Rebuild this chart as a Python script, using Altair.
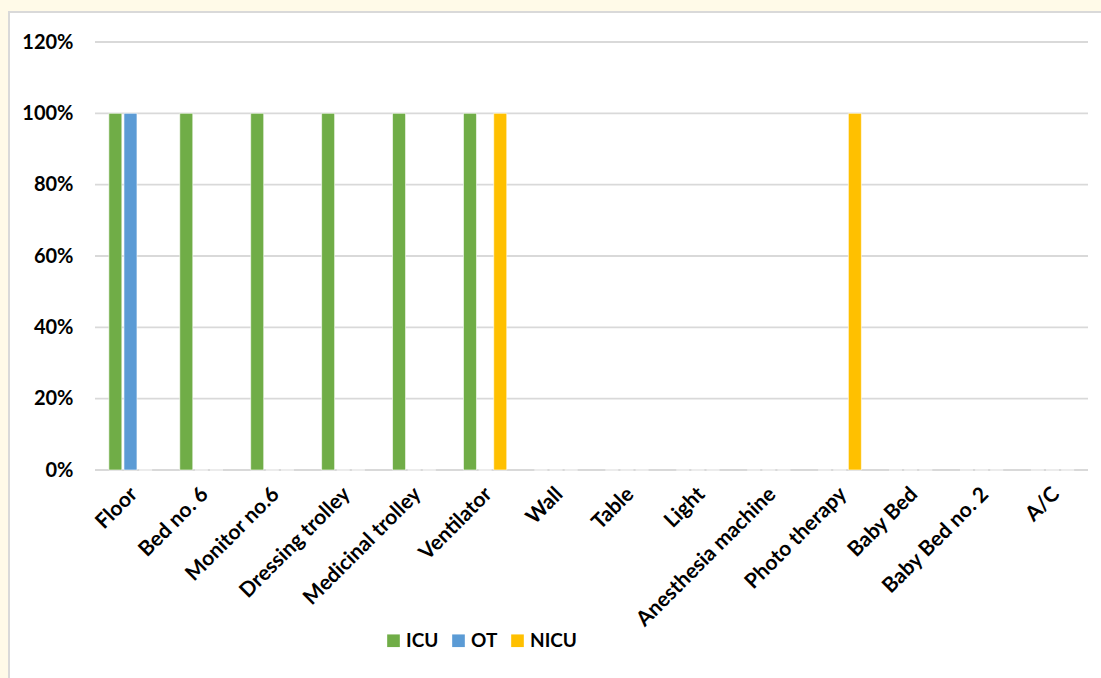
import altair as alt
import pandas as pd

categories = ["Floor", "Bed no. 6", "Monitor no.6", "Dressing trolley", "Medicinal trolley",
              "Ventilator", "Wall", "Table", "Light", "Anesthesia machine", "Photo therapy",
              "Baby Bed", "Baby Bed no. 2", "A/C"]
series = ["ICU", "OT", "NICU"]
icu = [1, 1, 1, 1, 1, 1, 0, 0, 0, 0, 0, 0, 0, 0]
ot = [1, 0, 0, 0, 0, 0, 0, 0, 0, 0, 0, 0, 0, 0]
nicu = [0, 0, 0, 0, 0, 1, 0, 0, 0, 0, 1, 0, 0, 0]
colors = ["#70AD47", "#5B9BD5", "#FFC000"]
y_ticks = [0, 0.2, 0.4, 0.6, 0.8, 1.0, 1.2]

rows = []
for s, vals in zip(series, [icu, ot, nicu]):
    for c, v in zip(categories, vals):
        rows.append({"Item": c, "Unit": s, "Value": v})
df = pd.DataFrame(rows)
grid_df = pd.DataFrame({"Value": y_ticks})

W, H = 993, 428
PL, PT = 95, 42
FONT = "Lato"

yscale = alt.Scale(domain=[0, 1.2], nice=False)
yaxis = alt.Axis(title=None, values=y_ticks, format=".0%", labelFont=FONT,
                 labelFontWeight="bold", labelFontSize=20, labelColor="#000000",
                 labelPadding=22, ticks=False, domain=False, grid=False, zindex=1)

frame = alt.Chart(pd.DataFrame({"a": [0]})).mark_rect(
    fill="white", stroke="#d9d9d9", strokeWidth=2
).encode(
    x=alt.value(9 - PL), x2=alt.value(1101 - PL + 10),
    y=alt.value(12 - PT), y2=alt.value(678 - PT + 10)
)

grid = alt.Chart(grid_df).mark_rule(color="#d9d9d9", strokeWidth=1.8).encode(
    y=alt.Y("Value:Q", scale=yscale, axis=yaxis),
    x=alt.value(0), x2=alt.value(W)
)

bars = alt.Chart(df).mark_bar(stroke="white", strokeWidth=0.6).encode(
    x=alt.X("Item:N", sort=categories,
            scale=alt.Scale(paddingInner=0.39, paddingOuter=0.195),
            axis=alt.Axis(title=None, labelAngle=-45, labelFont=FONT, labelFontWeight="bold",
                          labelFontSize=21, labelColor="#000000", labelPadding=13,
                          labelOffset=-4, ticks=False, domain=False, labelOverlap=False,
                          labelLimit=300, zindex=1)),
    xOffset=alt.XOffset("Unit:N", sort=series,
                        scale=alt.Scale(paddingInner=0.14, paddingOuter=0)),
    y=alt.Y("Value:Q", scale=yscale, axis=yaxis),
    color=alt.Color("Unit:N", sort=series,
                    scale=alt.Scale(domain=series, range=colors),
                    legend=alt.Legend(title=None, orient="none", direction="horizontal",
                                      legendX=289, legendY=589, symbolType="square",
                                      symbolSize=160, symbolStrokeWidth=0,
                                      labelFont=FONT, labelFontWeight="bold", labelFontSize=19,
                                      labelColor="#000000", columnPadding=10, labelOffset=3,
                                      zindex=1))
)

chart = alt.layer(frame, grid, bars).properties(
    width=W, height=H,
    autosize=alt.AutoSizeParams(type="none"),
    padding={"left": PL, "top": PT, "right": 1101 - PL - W, "bottom": 678 - PT - H},
    background="#FFFAE8"
).configure_view(stroke=None)

chart.save("out.html", embed_options={"renderer": "svg", "actions": False})
